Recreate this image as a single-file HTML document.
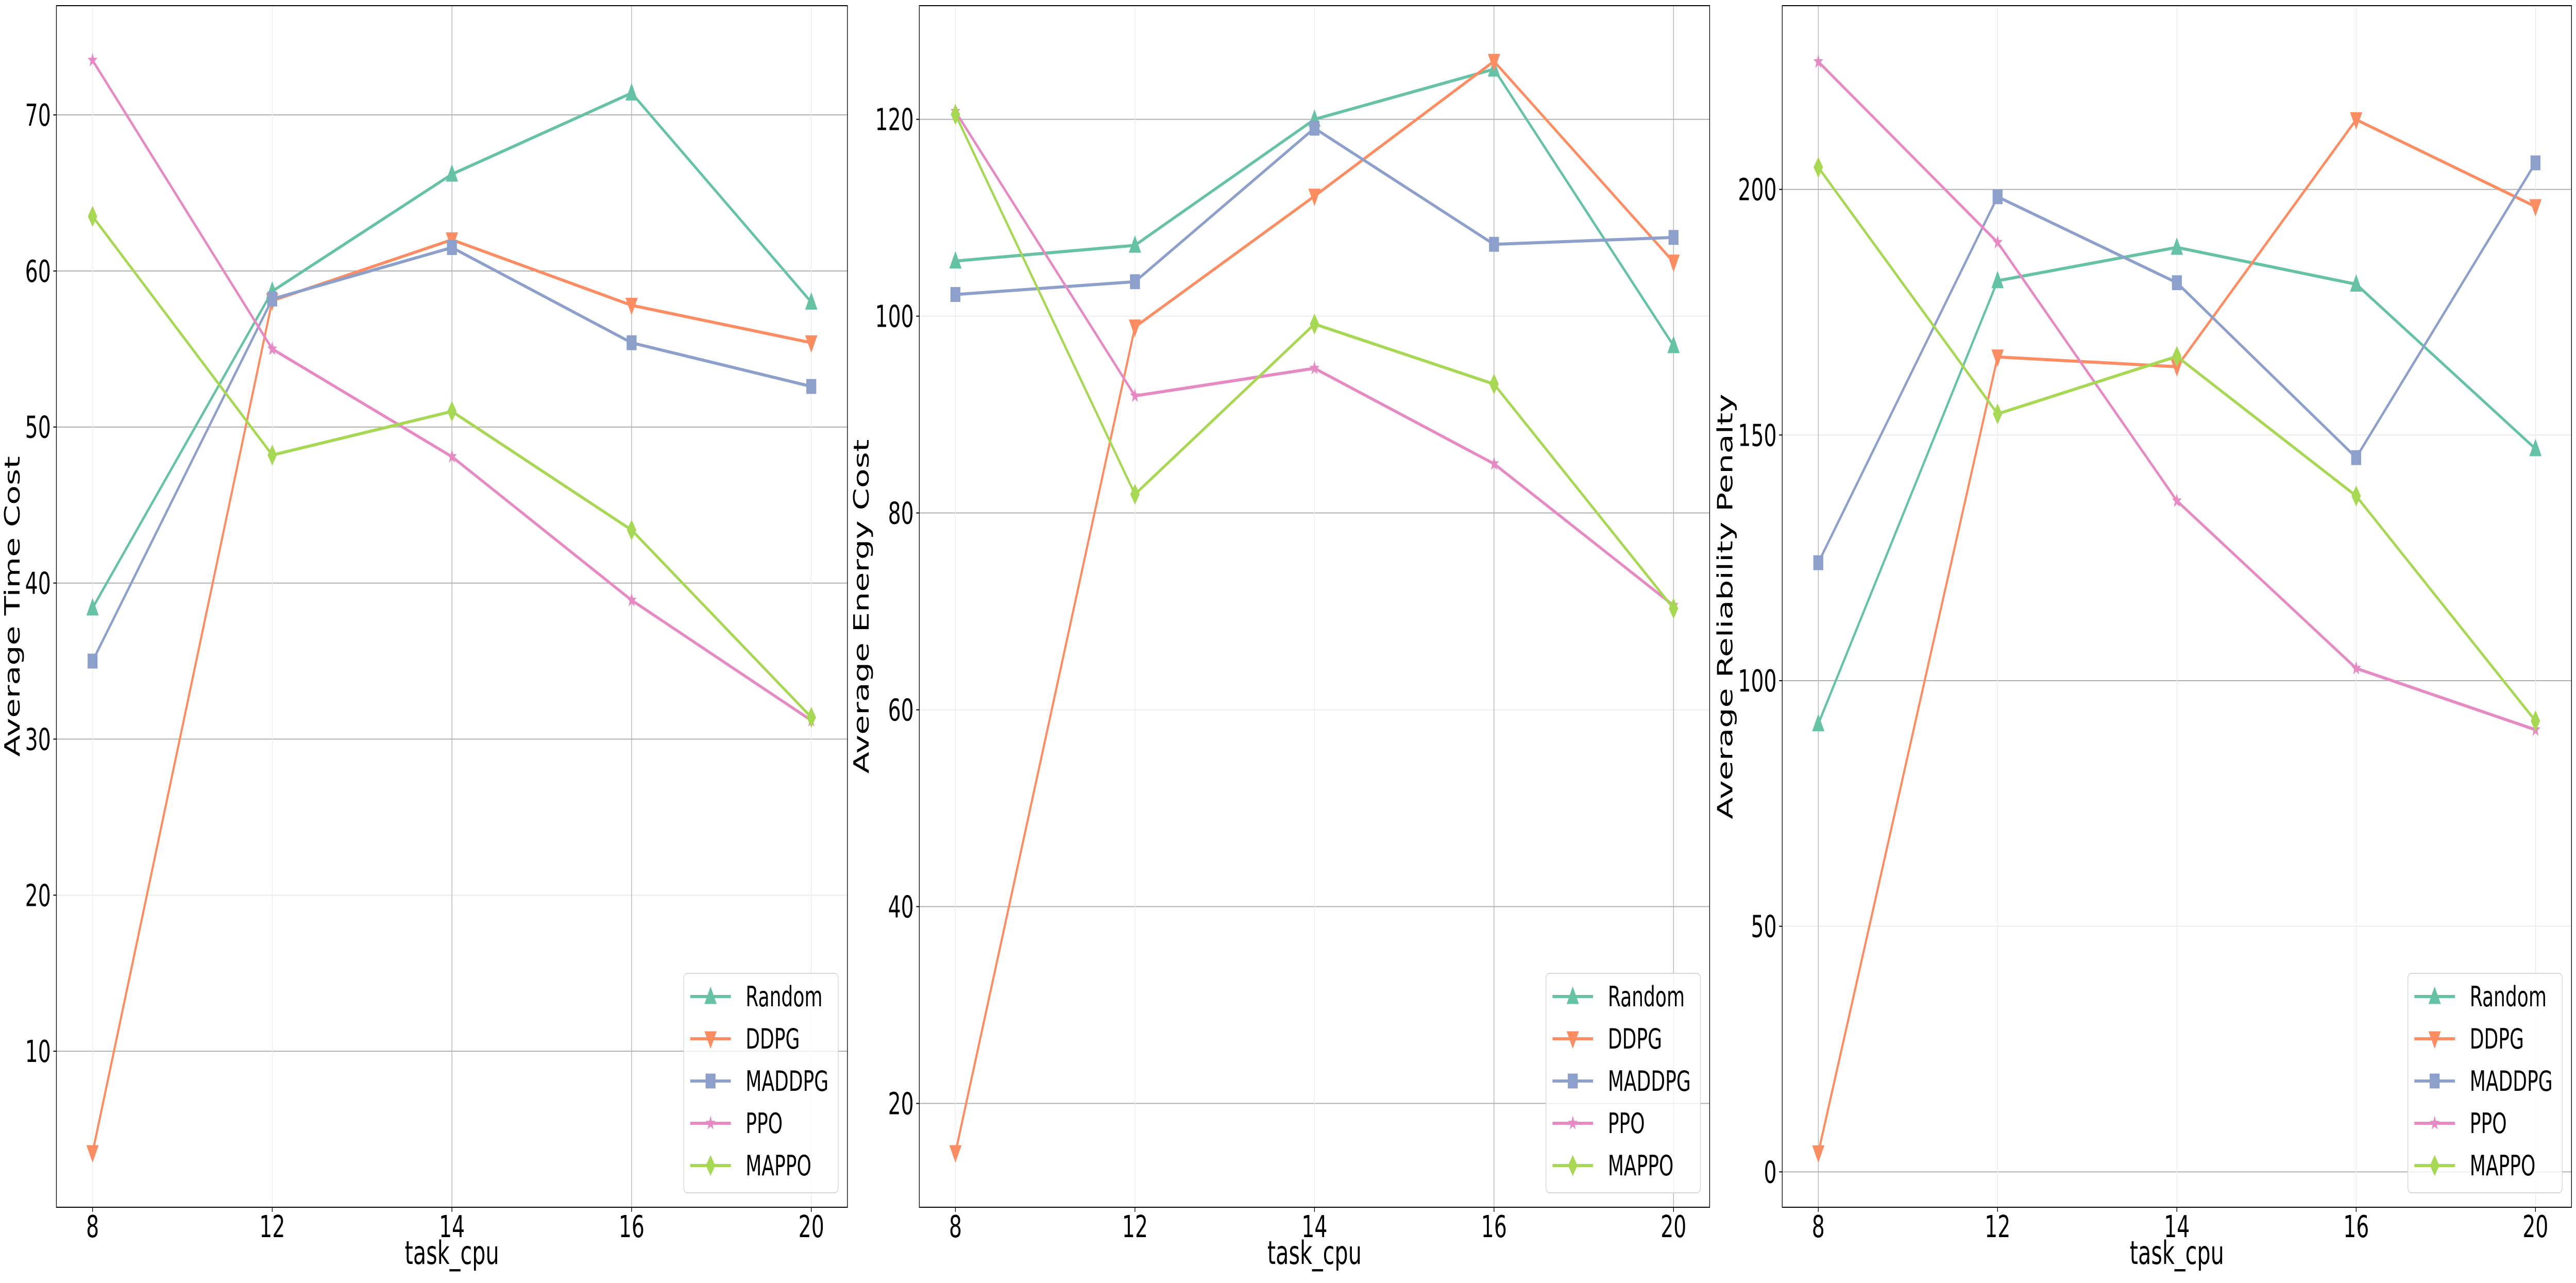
<!DOCTYPE html>
<html><head><meta charset="utf-8">
<style>
html,body{margin:0;padding:0;background:#fff;width:100%;height:100%;overflow:hidden;}
svg{display:block;font-family:"DejaVu Sans","Liberation Sans",sans-serif;width:100vw;height:100vh;}
</style></head>
<body>
<svg id="chart" viewBox="0 0 7490 2490" preserveAspectRatio="none" xmlns="http://www.w3.org/2000/svg"></svg>
<script>
const categories = ["8","12","14","16","20"];
const seriesNames = ["Random","DDPG","MADDPG","PPO","MAPPO"];
// Panel 1: Average Time Cost
const timeRandom = [38.4,58.7,66.2,71.4,58.0];
const timeDDPG   = [3.5,58.1,62.0,57.8,55.4];
const timeMADDPG = [35.0,58.2,61.5,55.4,52.6];
const timePPO    = [73.5,55.0,48.1,38.9,31.2];
const timeMAPPO  = [63.5,48.2,51.0,43.4,31.4];
const timeTicks  = [10,20,30,40,50,60,70];
// Panel 2: Average Energy Cost
const energyRandom = [105.6,107.2,120.0,125.1,97.0];
const energyDDPG   = [15.0,98.9,112.2,125.9,105.5];
const energyMADDPG = [102.2,103.5,119.1,107.3,108.0];
const energyPPO    = [120.8,91.9,94.7,85.0,70.6];
const energyMAPPO  = [120.5,81.9,99.2,93.1,70.3];
const energyTicks  = [20,40,60,80,100,120];
// Panel 3: Average Reliability Penalty
const relRandom = [91.2,181.4,188.2,180.7,147.2];
const relDDPG   = [3.9,165.9,163.9,214.2,196.5];
const relMADDPG = [124.0,198.5,181.0,145.4,205.4];
const relPPO    = [226.0,189.2,136.6,102.5,90.0];
const relMAPPO  = [204.5,154.3,166.0,137.6,91.8];
const relTicks  = [0,50,100,150,200];

const colors = ["#66c2a5","#fc8d62","#8da0cb","#e78ac3","#a6d854"];
const markers = ["tri-up","tri-down","square","star","diamond"];
const NS = "http://www.w3.org/2000/svg";
const svg = document.getElementById("chart");

function mk(tag, attrs, parent){
  const e = document.createElementNS(NS, tag);
  for (const k in attrs) e.setAttribute(k, attrs[k]);
  (parent||svg).appendChild(e);
  return e;
}

function marker(type, x, y, color, g){
  let e;
  const s = 17;
  if (type==="tri-up") e = mk("polygon",{points:`${x},${y-s*1.15} ${x-s*1.05},${y+s*0.85} ${x+s*1.05},${y+s*0.85}`,fill:color},g);
  else if (type==="tri-down") e = mk("polygon",{points:`${x},${y+s*1.15} ${x-s*1.05},${y-s*0.85} ${x+s*1.05},${y-s*0.85}`,fill:color},g);
  else if (type==="square") e = mk("rect",{x:x-s*0.85,y:y-s*0.85,width:s*1.7,height:s*1.7,fill:color},g);
  else if (type==="diamond") e = mk("polygon",{points:`${x},${y-s*1.2} ${x+s*0.8},${y} ${x},${y+s*1.2} ${x-s*0.8},${y}`,fill:color},g);
  else {
    let p=[]; const R=15, r=6;
    for (let i=0;i<10;i++){ const a=-Math.PI/2+i*Math.PI/5; const rr=i%2?r:R; p.push((x+rr*Math.cos(a)).toFixed(1)+","+(y+rr*Math.sin(a)).toFixed(1)); }
    e = mk("polygon",{points:p.join(" "),fill:color},g);
  }
  return e;
}

const panels = [
  {id:"time", left:164, right:2464, top:11, bottom:2343, ymin:0, ymax:77, ticks:timeTicks,
   series:[timeRandom,timeDDPG,timeMADDPG,timePPO,timeMAPPO], ylabel:"Average Time Cost", ylabelX:35,
   darkY:[10,30,40,60,70,50], darkX:[2,3]},
  {id:"energy", left:2673, right:4971, top:11, bottom:2343, ymin:9.45, ymax:131.55, ticks:energyTicks,
   series:[energyRandom,energyDDPG,energyMADDPG,energyPPO,energyMAPPO], ylabel:"Average Energy Cost", ylabelX:2504,
   darkY:[20,40,80,120], darkX:[3,4]},
  {id:"reliability", left:5182, right:7477, top:11, bottom:2343, ymin:-7.2, ymax:237.4, ticks:relTicks,
   series:[relRandom,relDDPG,relMADDPG,relPPO,relMAPPO], ylabel:"Average Reliability Penalty", ylabelX:5015,
   darkY:[0,100,200], darkX:[0]}
];

panels.forEach(P=>{
  const g = mk("g",{});
  
  
  const w = P.right-P.left;
  const pad = w*0.0457;
  const xs = i => P.left + pad + i*(w-2*pad)/(categories.length-1);
  const ys = v => P.bottom - (v-P.ymin)/(P.ymax-P.ymin)*(P.bottom-P.top);

  P.ticks.forEach(t=>{
    const dark = P.darkY.indexOf(t)>=0;
    const l = mk("line",{x1:P.left,x2:P.right,y1:ys(t),y2:ys(t),stroke:dark?"#b0b0b0":"#ececec","stroke-width":2},g);
    
    
  });
  categories.forEach((c,i)=>{
    const dark = P.darkX.indexOf(i)>=0;
    const l = mk("line",{x1:xs(i),x2:xs(i),y1:P.top,y2:P.bottom,stroke:dark?"#b0b0b0":"#ececec","stroke-width":2},g);
    
    
  });

  P.series.forEach((vals,si)=>{
    const sg = mk("g",{},g);
    
    
    const pts = vals.map((v,i)=>xs(i).toFixed(1)+","+ys(v).toFixed(1)).join(" ");
    const pl = mk("polyline",{points:pts,fill:"none",stroke:colors[si],"stroke-width":6,"stroke-linejoin":"round"},sg);
    
    
    vals.forEach((v,i)=>{
      const m = marker(markers[si], xs(i), ys(v), colors[si], sg);
      
      
    });
  });

  const fr = mk("rect",{x:P.left,y:P.top,width:w,height:P.bottom-P.top,fill:"none",stroke:"#000","stroke-width":2},g);
  
  

  P.ticks.forEach(t=>{
    mk("line",{x1:P.left-9,x2:P.left,y1:ys(t),y2:ys(t),stroke:"#000","stroke-width":2},g);
    const tx = mk("text",{x:P.left-16,y:ys(t)+21,"text-anchor":"end","font-size":59,fill:"#000"},g);
    tx.textContent = t;
    
    
  });
  categories.forEach((c,i)=>{
    mk("line",{x1:xs(i),x2:xs(i),y1:P.bottom,y2:P.bottom+9,stroke:"#000","stroke-width":2},g);
    const tx = mk("text",{x:xs(i),y:P.bottom+58,"text-anchor":"middle","font-size":59,fill:"#000"},g);
    tx.textContent = c;
    
    
  });

  const xl = mk("text",{x:(P.left+P.right)/2,y:2453,"text-anchor":"middle","font-size":62,fill:"#000"},g);
  xl.textContent = "task_cpu";
  
  
  const yl = mk("text",{x:0,y:0,"text-anchor":"middle","font-size":62,fill:"#000",transform:`translate(${P.ylabelX+22},${(P.top+P.bottom)/2}) rotate(-90)`},g);
  yl.textContent = P.ylabel;
  
  

  const lg = mk("g",{},g);
  
  
  const lx = P.right-476, ly = P.bottom-454;
  mk("rect",{x:lx,y:ly,width:449,height:426,rx:10,fill:"#fff","fill-opacity":0.8,stroke:"#d6d6d6","stroke-width":2},lg);
  seriesNames.forEach((n,si)=>{
    const cy = ly+45+si*82;
    const le = mk("g",{},lg);
    
    
    mk("line",{x1:lx+19,x2:lx+137,y1:cy,y2:cy,stroke:colors[si],"stroke-width":6},le);
    marker(markers[si], lx+78, cy, colors[si], le);
    const t = mk("text",{x:lx+180,y:cy+19,"font-size":54,fill:"#000"},le);
    t.textContent = n;
  });
});
</script>
</body></html>
